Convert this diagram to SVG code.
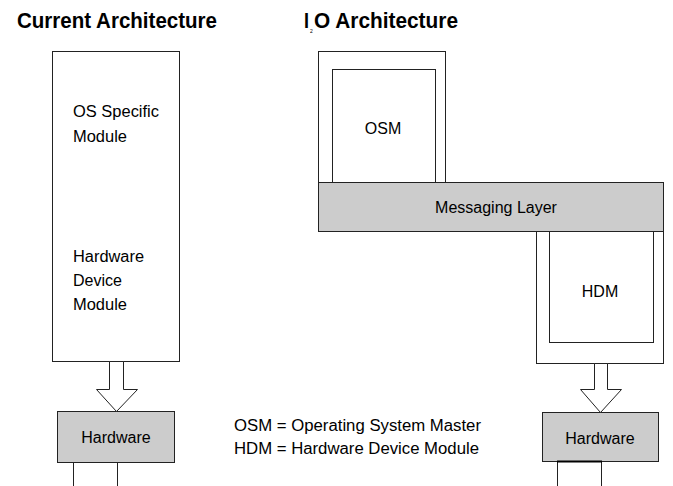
<svg xmlns="http://www.w3.org/2000/svg" width="673" height="486" viewBox="0 0 673 486">
<style>
.box{fill:#fff;stroke:#222;stroke-width:1}
.grey{fill:#cccccc;stroke:#222;stroke-width:1}
.t{font-family:"Liberation Sans",Arial,sans-serif;font-size:16px;fill:#000}
.title{font-family:"Liberation Sans",Arial,sans-serif;font-size:22px;font-weight:bold;fill:#000}
.arrow{fill:#fff;stroke:#222;stroke-width:1}
</style>
<rect width="673" height="486" fill="#fff"/>
<text class="title" x="17" y="28" textLength="200" lengthAdjust="spacingAndGlyphs">Current Architecture</text>
<text class="title" x="304" y="28" textLength="5" lengthAdjust="spacingAndGlyphs">I</text>
<text x="310" y="33" font-family="Liberation Sans, sans-serif" font-size="5" fill="#000">2</text>
<text class="title" x="314" y="28" textLength="144" lengthAdjust="spacingAndGlyphs">O Architecture</text>

<g id="current-module">
<rect class="box" x="52.5" y="51.5" width="127" height="310"/>
<text class="t" x="73" y="117" textLength="86" lengthAdjust="spacingAndGlyphs">OS Specific</text>
<text class="t" x="73" y="142" textLength="54" lengthAdjust="spacingAndGlyphs">Module</text>
<text class="t" x="73" y="262" textLength="71" lengthAdjust="spacingAndGlyphs">Hardware</text>
<text class="t" x="73" y="286" textLength="49" lengthAdjust="spacingAndGlyphs">Device</text>
<text class="t" x="73" y="310" textLength="54" lengthAdjust="spacingAndGlyphs">Module</text>
</g>

<g id="osm">
<rect class="box" x="318.5" y="51.5" width="127" height="131"/>
<rect class="box" x="332.5" y="69.5" width="103" height="113"/>
<text class="t" x="383" y="134" text-anchor="middle">OSM</text>
</g>

<g id="hdm">
<rect class="box" x="536.5" y="231.5" width="127" height="132"/>
<rect class="box" x="549.5" y="231.5" width="104" height="111"/>
<text class="t" x="600" y="297" text-anchor="middle">HDM</text>
</g>

<g id="messaging-layer">
<rect class="grey" x="318.5" y="182.5" width="345" height="49"/>
<text class="t" x="496" y="213" text-anchor="middle">Messaging Layer</text>
</g>

<g id="hardware-left">
<rect class="grey" x="57.5" y="411.5" width="117" height="51"/>
<text class="t" x="116" y="443" text-anchor="middle">Hardware</text>
<path d="M73.5 462.5 V490 M117.5 462.5 V490" stroke="#222" fill="none"/>
</g>

<g id="hardware-right">
<rect class="grey" x="542.5" y="412.5" width="116" height="49"/>
<text class="t" x="600" y="444" text-anchor="middle">Hardware</text>
<rect x="557.5" y="461.5" width="44" height="30" fill="#fff" stroke="#222"/>
<line x1="557" y1="461.5" x2="602" y2="461.5" stroke="#000" stroke-width="2"/>
</g>

<g id="connectors">
<polygon class="arrow" points="109.5,361.5 123.5,361.5 123.5,389.5 137.5,389.5 116.5,411.5 96.5,389.5 109.5,389.5"/>
<polygon class="arrow" points="594.5,363.5 607.5,363.5 607.5,389.5 621.5,389.5 600.5,412.5 580.5,389.5 594.5,389.5"/>
</g>

<g id="legend">
<text class="t" x="234" y="431" textLength="247" lengthAdjust="spacingAndGlyphs">OSM = Operating System Master</text>
<text class="t" x="234" y="454" textLength="245" lengthAdjust="spacingAndGlyphs">HDM = Hardware Device Module</text>
</g>
</svg>
